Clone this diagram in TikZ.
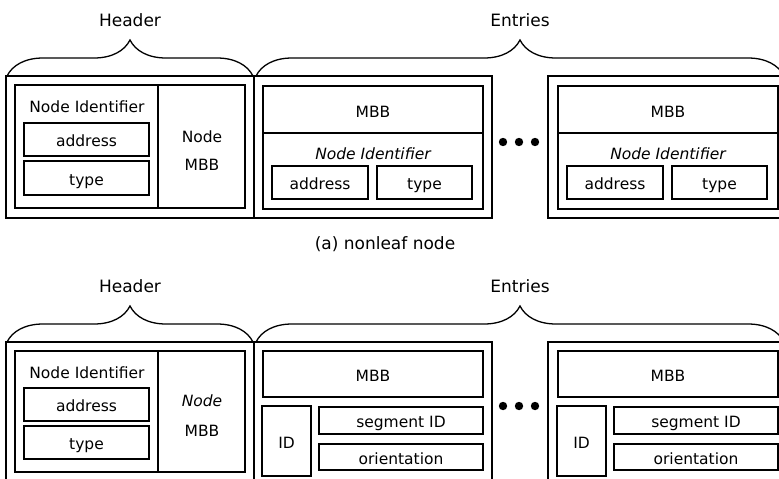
\documentclass[tikz,border=0pt]{standalone}
\usepackage{fontspec}
\setmainfont{DejaVu Sans}
\usetikzlibrary{decorations.pathreplacing}
\tikzset{
  frame/.style={line width=1.3pt},
  cell/.style={draw, line width=1.3pt, inner sep=0pt, text height=14.5pt, text depth=0.5pt, font=\fontsize{15.5pt}{18pt}\selectfont},
  lbl/.style={inner sep=0pt, text height=14.5pt, text depth=0.5pt, font=\fontsize{15.5pt}{18pt}\selectfont},
  ilbl/.style={lbl, font=\fontsize{15.5pt}{18pt}\selectfont\itshape},
  title/.style={inner sep=0pt, text height=12.5pt, text depth=4pt, font=\fontsize{17pt}{20pt}\selectfont},
  curly/.style={line width=1.3pt, decorate, decoration={brace, amplitude=36pt}}
}
\begin{document}
\begin{tikzpicture}[x=1pt, y=-1pt]
    \useasboundingbox (0,0) rectangle (779,479);
    \clip (0,0) rectangle (779,479);

    % (a) nonleaf node
    \coordinate (hA) at (7,76);
    \coordinate (hB) at (253,76);
    \coordinate (eA) at (256,76);
    \coordinate (eB) at (784,76);
    \draw [curly] (hA) -- (hB);
    \draw [curly] (eA) -- (eB);
    \node [title] (header1) at (130,22) {Header};
    \node [title] (entries1) at (520,22) {Entries};
    \draw [frame] (6,76) rectangle (492,218);
    \draw [frame] (548,76) rectangle (792,218);
    \draw [frame] (254,76) -- (254,218);
    \draw [frame] (15,85) rectangle (245,208);
    \draw [frame] (158,85) -- (158,208);
    \node [lbl] (nid1) at (87,105) {Node Identifier};
    \node [cell, minimum width=125, minimum height=33] (addr1) at (86.5,139.5) {address};
    \node [cell, minimum width=125, minimum height=34] (type1) at (86.5,178) {type};
    \node [lbl] (node1) at (202,135) {Node};
    \node [lbl] (mbb1) at (202,163) {MBB};
    % first entry
    \draw [frame] (263,86) rectangle (483,209);
    \draw [frame] (263,133) -- (483,133);
    \node [lbl] (embb1) at (373,110) {MBB};
    \node [ilbl] (enid1) at (373,152) {Node Identifier};
    \node [cell, minimum width=96, minimum height=33] (eaddr1) at (320,182.5) {address};
    \node [cell, minimum width=95, minimum height=33] (etype1) at (424.5,182.5) {type};
    % last entry
    \draw [frame] (558,86) rectangle (778,209);
    \draw [frame] (558,133) -- (778,133);
    \node [lbl] (fmbb1) at (668,110) {MBB};
    \node [ilbl] (fnid1) at (668,152) {Node Identifier};
    \node [cell, minimum width=96, minimum height=33] (faddr1) at (615,182.5) {address};
    \node [cell, minimum width=95, minimum height=33] (ftype1) at (719.5,182.5) {type};
    \fill (503,142) circle (4.2pt) (519,142) circle (4.2pt) (535,142) circle (4.2pt);
    \node [title] (capA) at (385,245) {(a) nonleaf node};

    % leaf node
    \coordinate (hC) at (7,342);
    \coordinate (hD) at (253,342);
    \coordinate (eC) at (256,342);
    \coordinate (eD) at (784,342);
    \draw [curly] (hC) -- (hD);
    \draw [curly] (eC) -- (eD);
    \node [title] (header2) at (130,288) {Header};
    \node [title] (entries2) at (520,288) {Entries};
    \draw [frame] (6,342) rectangle (492,490);
    \draw [frame] (548,342) rectangle (792,490);
    \draw [frame] (254,342) -- (254,490);
    \draw [frame] (15,351) rectangle (245,472);
    \draw [frame] (158,351) -- (158,472);
    \node [lbl] (nid2) at (87,371) {Node Identifier};
    \node [cell, minimum width=125, minimum height=33] (addr2) at (86.5,404.5) {address};
    \node [cell, minimum width=125, minimum height=33] (type2) at (86.5,442.5) {type};
    \node [ilbl] (node2) at (202,399) {Node};
    \node [lbl] (mbb2) at (202,429) {MBB};
    % first entry
    \node [cell, minimum width=220, minimum height=46] (embb2) at (373,374) {MBB};
    \node [cell, minimum width=49, minimum height=70] (eid2) at (286.5,441) {ID};
    \node [cell, minimum width=164, minimum height=27] (eseg2) at (401,420.5) {segment ID};
    \node [cell, minimum width=164, minimum height=26] (eori2) at (401,457) {orientation};
    % last entry
    \node [cell, minimum width=220, minimum height=46] (fmbb2) at (668,374) {MBB};
    \node [cell, minimum width=49, minimum height=70] (fid2) at (581.5,441) {ID};
    \node [cell, minimum width=164, minimum height=27] (fseg2) at (696,420.5) {segment ID};
    \node [cell, minimum width=164, minimum height=26] (fori2) at (696,457) {orientation};
    \fill (503,406) circle (4.2pt) (519,406) circle (4.2pt) (535,406) circle (4.2pt);
\end{tikzpicture}
\end{document}
